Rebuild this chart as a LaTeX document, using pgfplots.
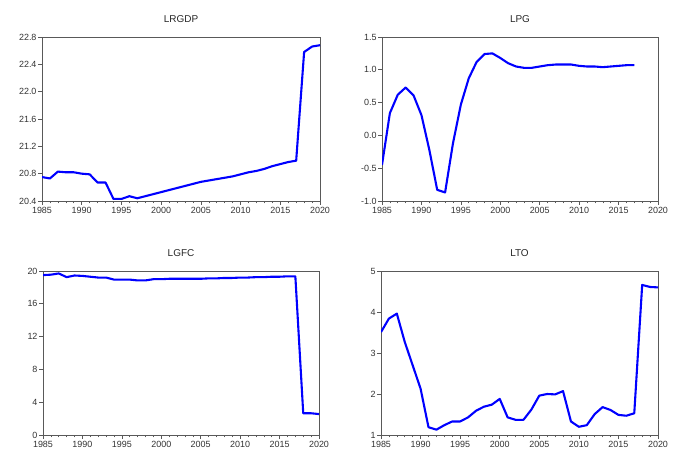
\documentclass[border=0pt]{standalone}
\usepackage{pgfplots}
\pgfplotsset{compat=1.18}
\usepackage{fontspec}
\setmainfont{Liberation Sans}
\definecolor{lineblue}{RGB}{25,25,235}
\pgfplotsset{
  evstyle/.style={
    scale only axis,
    anchor=south west,
    xmin=1985, xmax=2020,
    xtick={1985,1990,...,2020},
    minor x tick num=4,
    tick align=outside,
    major tick length=4bp,
    minor tick length=2.5bp,
    xtick pos=bottom, ytick pos=left,
    axis line style={black!65, line width=0.6pt},
    tick style={black!65, line width=0.6pt},
    /pgf/number format/assume math mode=true,
    xticklabel style={font=\fontsize{9}{10}\selectfont, text=black!80, /pgf/number format/1000 sep={}, yshift=1bp},
    yticklabel style={font=\fontsize{9}{10}\selectfont, text=black!80, xshift=2bp},
    title style={font=\fontsize{10}{12}\selectfont, text=black!85, yshift=5bp},
    every axis plot/.append style={lineblue, line width=2.1pt, line join=round, no marks},
  }
}
\pgfplotstableread{
year lrgdp lgfc lto
1985 20.75 19.50 3.51
1986 20.73 19.55 3.84
1987 20.83 19.70 3.96
1988 20.82 19.25 3.27
1989 20.82 19.45 2.70
1990 20.80 19.40 2.13
1991 20.79 19.30 1.19
1992 20.67 19.20 1.13
1993 20.67 19.20 1.24
1994 20.43 18.95 1.33
1995 20.43 18.95 1.33
1996 20.47 18.95 1.43
1997 20.44 18.85 1.59
1998 20.47 18.85 1.69
1999 20.50 19.00 1.74
2000 20.53 19.00 1.88
2001 20.56 19.05 1.43
2002 20.59 19.05 1.37
2003 20.62 19.05 1.37
2004 20.65 19.05 1.62
2005 20.68 19.05 1.96
2006 20.70 19.10 2.00
2007 20.72 19.10 1.99
2008 20.74 19.15 2.07
2009 20.76 19.15 1.33
2010 20.79 19.20 1.20
2011 20.82 19.20 1.24
2012 20.84 19.25 1.51
2013 20.87 19.25 1.68
2014 20.91 19.30 1.61
2015 20.94 19.30 1.49
2016 20.97 19.35 1.47
2017 20.99 19.35 1.53
2018 22.58 2.65 4.66
2019 22.66 2.65 4.61
2020 22.68 2.55 4.60
}\maindata
\pgfplotstableread{
year lpg
1985 -0.45
1986 0.34
1987 0.62
1988 0.73
1989 0.61
1990 0.31
1991 -0.22
1992 -0.83
1993 -0.87
1994 -0.12
1995 0.47
1996 0.87
1997 1.12
1998 1.24
1999 1.25
2000 1.18
2001 1.10
2002 1.05
2003 1.03
2004 1.03
2005 1.05
2006 1.07
2007 1.08
2008 1.08
2009 1.08
2010 1.06
2011 1.05
2012 1.05
2013 1.04
2014 1.05
2015 1.06
2016 1.07
2017 1.07
}\lpgdata
\begin{document}
\begin{tikzpicture}[x=1bp,y=1bp]
\useasboundingbox (0,0) rectangle (679,451);
\begin{axis}[evstyle, at={(42bp,250bp)}, width=278bp, height=164bp,
  title={LRGDP}, ymin=20.4, ymax=22.8, ytick={20.4,20.8,...,22.9},
  yticklabel style={/pgf/number format/fixed, /pgf/number format/fixed zerofill, /pgf/number format/precision=1}]
\addplot table[x=year, y=lrgdp] {\maindata};
\end{axis}
\begin{axis}[evstyle, at={(382bp,250bp)}, width=276bp, height=164bp,
  title={LPG}, ymin=-1, ymax=1.5, ytick={-1,-0.5,0,0.5,1,1.5},
  yticklabel style={/pgf/number format/fixed, /pgf/number format/fixed zerofill, /pgf/number format/precision=1}]
\addplot table[x=year, y=lpg] {\lpgdata};
\end{axis}
\begin{axis}[evstyle, at={(43bp,16bp)}, width=276bp, height=164bp,
  title={LGFC}, ymin=0, ymax=20, ytick={0,4,...,20}]
\addplot table[x=year, y=lgfc] {\maindata};
\end{axis}
\begin{axis}[evstyle, at={(381bp,16bp)}, width=277bp, height=164bp,
  title={LTO}, ymin=1, ymax=5, ytick={1,2,...,5}]
\addplot table[x=year, y=lto] {\maindata};
\end{axis}
\end{tikzpicture}
\end{document}
